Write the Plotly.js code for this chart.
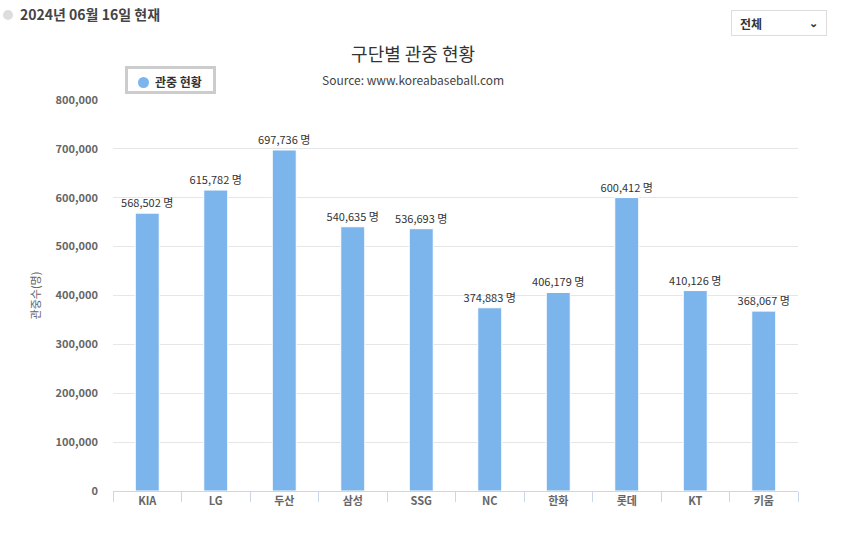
<!DOCTYPE html>
<html>
<head>
<meta charset="utf-8">
<script src="https://cdn.plot.ly/plotly-3.0.1.min.js"></script>
<style>
  body { margin: 0; background: #fff; font-family: "Noto Sans CJK KR", "Noto Sans", sans-serif; }
  #wrap { position: relative; width: 850px; height: 543px; overflow: hidden; }
  #graph { position: absolute; left: 0; top: 0; width: 850px; height: 543px; }
  #head { position: absolute; left: 3px; top: 4px; font-size: 14px; font-weight: bold; color: #444; z-index: 2; }
  #head .dot { display: inline-block; width: 10px; height: 10px; background: #ddd; border-radius: 50%; margin-right: 7px; vertical-align: 0px; }
  #sel { position: absolute; left: 731px; top: 10px; width: 96px; height: 26px; border: 1px solid #ddd; box-sizing: border-box; font-size: 12px; font-weight: bold; color: #333; z-index: 2; padding: 4px 8px; }
  #sel span.arr { position: absolute; right: 8px; top: 3px; font-size: 11px; }
  #legend { position: absolute; left: 125px; top: 66px; width: 91px; height: 28px; border: 3px solid #ccc; box-sizing: border-box; background: #fff; font-size: 12px; font-weight: bold; color: #333; z-index: 2; padding: 4px 0 0 10px; }
  #legend .c { display: inline-block; width: 11px; height: 11px; background: #7cb5ec; border-radius: 50%; margin-right: 6px; vertical-align: -1px; }
</style>
</head>
<body>
<div id="wrap">
  <div id="head"><span class="dot"></span>2024년 06월 16일 현재</div>
  <div id="sel">전체<span class="arr">&#8964;</span></div>
  <div id="legend"><span class="c"></span>관중 현황</div>
  <div id="graph"></div>
</div>
<script>
const teams = ['KIA', 'LG', '두산', '삼성', 'SSG', 'NC', '한화', '롯데', 'KT', '키움'];
const attendance = [568502, 615782, 697736, 540635, 536693, 374883, 406179, 600412, 410126, 368067];
const yTicks = [0, 100000, 200000, 300000, 400000, 500000, 600000, 700000, 800000];

document.addEventListener('DOMContentLoaded', function() {
    const font = 'Noto Sans CJK KR, Noto Sans, sans-serif';

    const trace = {
        type: 'bar',
        x: teams,
        y: attendance,
        width: 0.35,
        marker: { color: '#7cb5ec', line: { color: '#ffffff', width: 1 } },
        text: attendance.map(v => v.toLocaleString('en-US') + ' 명'),
        textposition: 'outside',
        constraintext: 'none',
        cliponaxis: false,
        textfont: { size: 11, color: '#333', family: font },
        hoverinfo: 'x+y'
    };

    const layout = {
        width: 850,
        height: 543,
        margin: { l: 113, r: 52, t: 100, b: 52 },
        paper_bgcolor: '#fff',
        plot_bgcolor: '#fff',
        font: { family: font },
        showlegend: false,
        title: {
            text: '구단별 관중 현황',
            font: { size: 18, color: '#333', family: font },
            xref: 'container',
            x: 0.486, xanchor: 'center',
            y: 0.899, yanchor: 'middle'
        },
        annotations: [{
            text: 'Source: www.koreabaseball.com',
            xref: 'paper', yref: 'paper',
            x: 0.438, xanchor: 'center',
            y: 1.0 + 21 / 391, yanchor: 'middle',
            showarrow: false,
            font: { size: 12, color: '#444', family: font }
        }],
        xaxis: {
            type: 'category',
            showline: true,
            linecolor: '#ccd6eb',
            linewidth: 1,
            ticks: 'outside',
            tickson: 'boundaries',
            ticklen: 10,
            tickcolor: '#ccd6eb',
            tickfont: { size: 11, color: '#666', family: font, weight: 'bold' },
            showgrid: false
        },
        yaxis: {
            range: [0, 800000],
            tickvals: yTicks,
            ticktext: yTicks.map(v => v.toLocaleString('en-US')),
            tickfont: { size: 11, color: '#666', family: font, weight: 'bold' },
            ticklabelstandoff: 14,
            gridcolor: '#e6e6e6',
            zeroline: false,
            title: {
                text: '관중수(명)',
                font: { size: 11, color: '#666', family: font },
                standoff: 12
            }
        }
    };

    Plotly.newPlot('graph', [trace], layout, { displayModeBar: false, staticPlot: true });
});
</script>
</body>
</html>
